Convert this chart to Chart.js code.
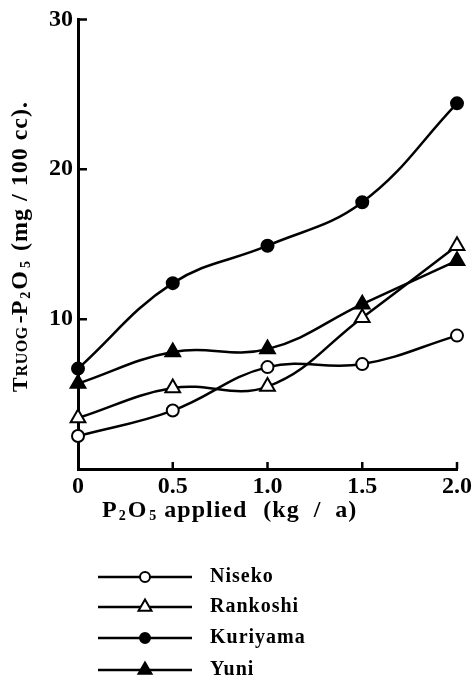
<!DOCTYPE html>
<html>
<head>
<meta charset="utf-8">
<script src="https://cdn.jsdelivr.net/npm/chart.js@4/dist/chart.umd.min.js"></script>
<style>html,body{margin:0;padding:0;background:#fff}</style>
</head>
<body>
<div style="width:475px;height:690px"><canvas id="c"></canvas></div>
<script>
// P2O5 applied (kg/a) vs Truog-P2O5 (mg/100cc)
const doses = [0, 0.5, 1.0, 1.5, 2.0];
const niseko = [2.2, 3.9, 6.8, 7.0, 8.9];
const rankoshi = [3.4, 5.4, 5.5, 10.1, 14.9];
const kuriyama = [6.7, 12.4, 14.9, 17.8, 24.4];
const yuni = [5.7, 7.8, 8.0, 11.0, 13.9];
const yTicks = [10, 20, 30];
const xTicks = [0.5, 1.0, 1.5, 2.0];

const FONT = '"Liberation Serif", "DejaVu Serif", serif';

function series(label, values, style, filled) {
    return {
        label,
        data: doses.map((x, i) => ({ x, y: values[i] })),
        borderColor: '#000',
        borderWidth: 2.5,
        pointStyle: style,
        pointRadius: style === 'triangle' ? 8.5 : 6,
        pointBorderWidth: 2,
        pointBackgroundColor: filled ? '#000' : '#fff',
        pointBorderColor: '#000',
        tension: 0.4,
        clip: false,
    };
}

// draws a row of text pieces with different sizes / baselines
function drawRuns(ctx, runs, x, y) {
    let cx = x;
    runs.forEach(r => {
        ctx.font = 'bold ' + r.size + 'px ' + FONT;
        ctx.letterSpacing = (r.ls || 0) + 'px';
        ctx.fillText(r.t, cx, y + (r.dy || 0));
        cx += ctx.measureText(r.t).width + (r.gap || 0);
    });
    ctx.letterSpacing = '0px';
}

const extras = {
    id: 'extras',
    afterDraw(chart) {
        const ctx = chart.ctx;
        const xs = chart.scales.x, ys = chart.scales.y;
        const area = chart.chartArea;
        ctx.save();
        ctx.strokeStyle = '#000';
        ctx.fillStyle = '#000';
        ctx.lineWidth = 2.5;
        // inward tick marks
        ctx.beginPath();
        yTicks.forEach(v => {
            const py = ys.getPixelForValue(v);
            ctx.moveTo(area.left, py);
            ctx.lineTo(area.left + 9, py);
        });
        xTicks.forEach(v => {
            const px = xs.getPixelForValue(v);
            ctx.moveTo(px, area.bottom);
            ctx.lineTo(px, area.bottom - 7);
        });
        ctx.stroke();

        ctx.textBaseline = 'alphabetic';
        ctx.textAlign = 'left';
        // x axis title
        drawRuns(ctx, [
            { t: 'P', size: 24, gap: 2 }, { t: '2', size: 14, dy: 3, gap: 2 },
            { t: 'O', size: 24, gap: 3 }, { t: '5', size: 14, dy: 3, gap: 8 },
            { t: 'applied', size: 24, ls: 1, gap: 16 },
            { t: '(kg  /  a)', size: 24, ls: 1 }
        ], 102, 517);

        // y axis title (rotated)
        ctx.save();
        ctx.translate(27, 392);
        ctx.rotate(-Math.PI / 2);
        drawRuns(ctx, [
            { t: 'T', size: 22, gap: 1 }, { t: 'RUOG', size: 16, ls: 0.5, gap: 3 },
            { t: '-P', size: 24, gap: 2 }, { t: '2', size: 14, dy: 3, gap: 2 },
            { t: 'O', size: 24, gap: 3 }, { t: '5', size: 14, dy: 3, gap: 10 },
            { t: '(mg / 100 cc).', size: 24, ls: 1 }
        ], 0, 0);
        ctx.restore();

        // legend: line with marker, then label
        const rows = [577, 607, 638, 670];
        chart.data.datasets.forEach((ds, i) => {
            const y = rows[i];
            ctx.lineWidth = 2.5;
            ctx.beginPath();
            ctx.moveTo(98, y);
            ctx.lineTo(192, y);
            ctx.stroke();
            ctx.fillStyle = ds.pointBackgroundColor;
            ctx.lineWidth = 2;
            Chart.helpers.drawPoint(ctx, {
                pointStyle: ds.pointStyle,
                radius: ds.pointStyle === 'triangle' ? 7.5 : 5,
                rotation: 0,
                borderWidth: 2
            }, 145, y);
            ctx.fillStyle = '#000';
            ctx.font = 'bold 20px ' + FONT;
            ctx.letterSpacing = '1px';
            ctx.textBaseline = 'middle';
            ctx.fillText(ds.label, 210, y);
            ctx.letterSpacing = '0px';
        });
        ctx.restore();
    }
};

new Chart(document.getElementById('c'), {
    type: 'line',
    data: {
        datasets: [
            series('Niseko', niseko, 'circle', false),
            series('Rankoshi', rankoshi, 'triangle', false),
            series('Kuriyama', kuriyama, 'circle', true),
            series('Yuni', yuni, 'triangle', true),
        ],
    },
    options: {
        responsive: true,
        maintainAspectRatio: false,
        animation: false,
        layout: { padding: { top: 13, right: 17, bottom: 150, left: 0 } },
        plugins: { legend: { display: false }, tooltip: { enabled: false } },
        scales: {
            x: {
                type: 'linear',
                min: 0,
                max: 2,
                afterFit: s => { s.height = 71; },
                afterBuildTicks: s => { s.ticks = [0].concat(xTicks).map(v => ({ value: v })); },
                grid: { display: false, drawTicks: false },
                border: { display: true, color: '#000', width: 3 },
                ticks: {
                    padding: 3,
                    color: '#000',
                    font: { family: FONT, size: 24, weight: 'bold' },
                    callback: v => v === 0 ? '0' : v.toFixed(1),
                },
            },
            y: {
                min: 0,
                max: 30,
                afterFit: s => { s.width = 78; },
                afterBuildTicks: s => { s.ticks = yTicks.map(v => ({ value: v })); },
                grid: { display: false, drawTicks: false },
                border: { display: true, color: '#000', width: 3 },
                ticks: {
                    padding: 5,
                    color: '#000',
                    font: { family: FONT, size: 24, weight: 'bold' },
                },
            },
        },
    },
    plugins: [extras],
});
</script>
</body>
</html>
